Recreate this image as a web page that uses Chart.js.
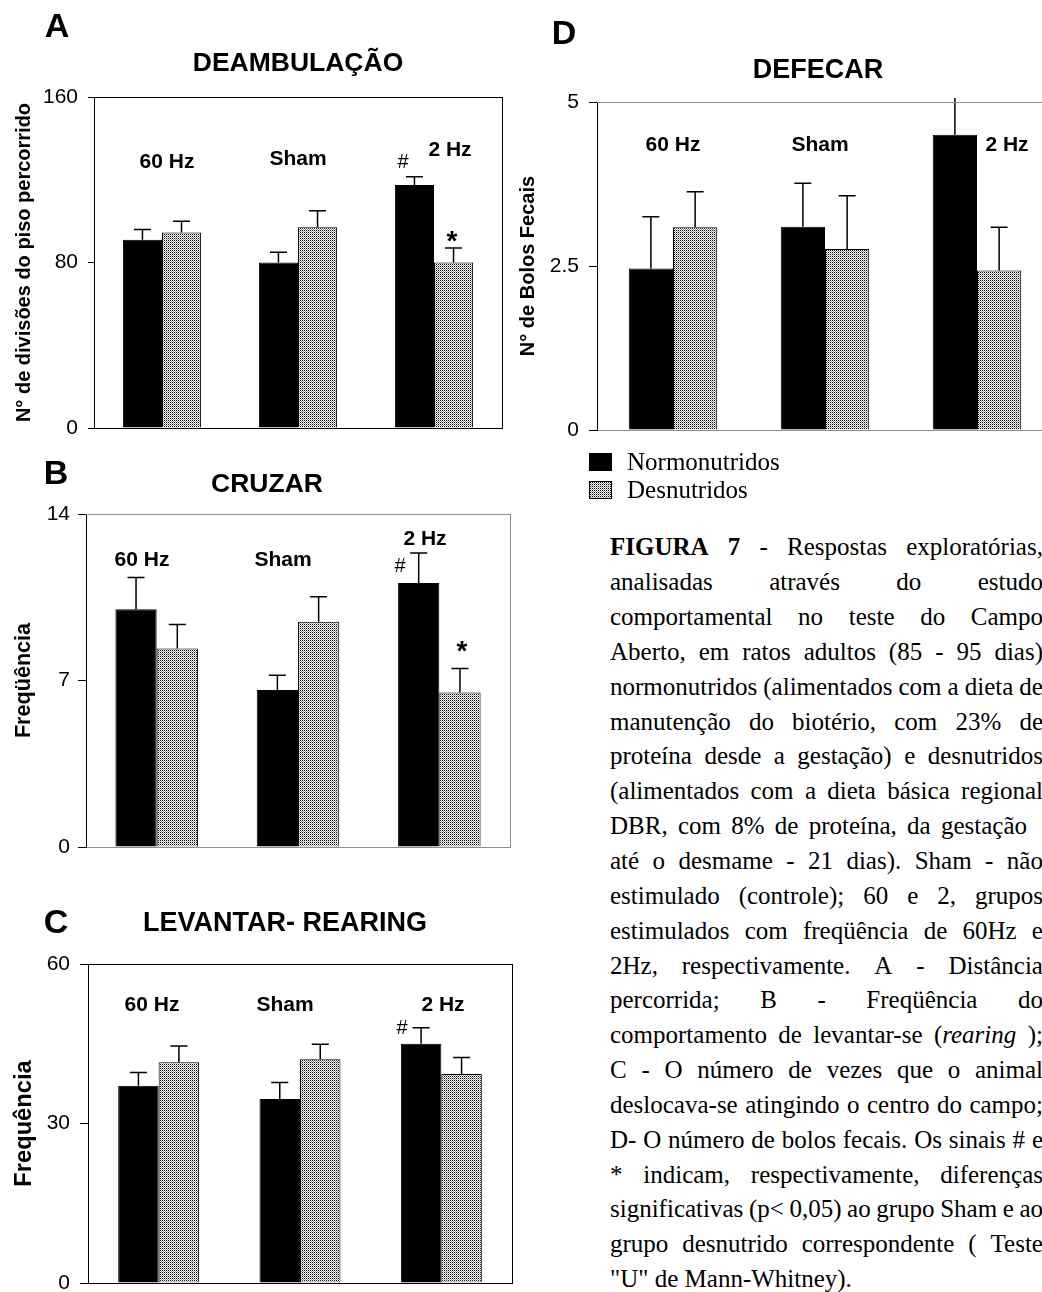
<!DOCTYPE html>
<html lang="pt">
<head>
<meta charset="utf-8">
<title>Figura 7 – Respostas exploratórias no Campo Aberto</title>
<script src="https://cdn.jsdelivr.net/npm/chart.js@4.4.1/dist/chart.umd.min.js"></script>
<style>
  html, body { margin: 0; padding: 0; background: #fff; overflow: hidden; }
  #page { position: relative; width: 1042px; height: 1292px; overflow: hidden; background: #fff; }
  #page canvas { position: absolute; }
  #caption {
    position: absolute; left: 610px; top: 530.4px; width: 433px;
    font-family: 'Liberation Serif', 'Times New Roman', serif;
    font-size: 25px; line-height: 34.85px; color: #000;
  }
  #caption .ln { display: flex; justify-content: space-between; white-space: nowrap; }
  #caption .last { white-space: nowrap; }
</style>
</head>
<body>
<div id="page">
  <canvas id="chartA" width="520" height="455" style="left:0px;top:0px"></canvas>
  <canvas id="chartB" width="520" height="430" style="left:0px;top:440px"></canvas>
  <canvas id="chartC" width="520" height="450" style="left:0px;top:860px"></canvas>
  <canvas id="chartD" width="570" height="520" style="left:512px;top:0px"></canvas>
  <div id="caption"></div>
</div>
<script>
// ---- data -------------------------------------------------------------
const categories = ['60 Hz', 'Sham', '2 Hz'];
const groups = ['Normonutridos', 'Desnutridos'];

// A – Deambulação (nº de divisões do piso percorrido), média e erro padrão
const deambNormo    = [91, 80, 117.5];
const deambNormoErr = [5, 5, 4];
const deambDesnu    = [94.5, 97, 80];
const deambDesnuErr = [5.5, 8, 7];
const deambTicks    = [0, 80, 160];

// B – Cruzar (freqüência)
const cruzNormo    = [10.0, 6.6, 11.1];
const cruzNormoErr = [1.33, 0.62, 1.26];
const cruzDesnu    = [8.35, 9.47, 6.5];
const cruzDesnuErr = [1.0, 1.05, 1.0];
const cruzTicks    = [0, 7, 14];

// C – Levantar / rearing (frequência)
const levNormo    = [37.1, 34.6, 45.0];
const levNormoErr = [2.5, 3.1, 3.0];
const levDesnu    = [41.5, 42.1, 39.3];
const levDesnuErr = [3.1, 2.8, 3.1];
const levTicks    = [0, 30, 60];

// D – Defecar (nº de bolos fecais)
const defNormo    = [2.46, 3.10, 4.50];
const defNormoErr = [0.79, 0.66, 0.58];
const defDesnu    = [3.09, 2.76, 2.43];
const defDesnuErr = [0.54, 0.81, 0.66];
const defTicks    = [0, 2.5, 5];

// significance marks: '#' vs Sham, '*' vs corresponding undernourished group
const deambMarks = ['#', '*'];
const cruzMarks  = ['#', '*'];
const levMarks   = ['#'];

// figure caption, one entry per justified line
const captionLines = [
  '<b>FIGURA</b> <b>7</b> - Respostas exploratórias,',
  'analisadas através do estudo',
  'comportamental no teste do Campo',
  'Aberto, em ratos adultos (85 - 95 dias)',
  'normonutridos (alimentados com a dieta de',
  'manutenção do biotério, com 23% de',
  'proteína desde a gestação) e desnutridos',
  '(alimentados com a dieta básica regional',
  'DBR, com 8% de proteína, da gestação',
  'até o desmame - 21 dias). Sham - não',
  'estimulado (controle); 60 e 2, grupos',
  'estimulados com freqüência de 60Hz e',
  '2Hz, respectivamente. A - Distância',
  'percorrida; B - Freqüência do',
  'comportamento de levantar-se (<i>rearing</i> );',
  'C - O número de vezes que o animal',
  'deslocava-se atingindo o centro do campo;',
  'D- O número de bolos fecais. Os sinais # e',
  '* indicam, respectivamente, diferenças',
  'significativas (p&lt; 0,05) ao grupo Sham e ao',
  'grupo desnutrido correspondente ( Teste',
  '"U" de Mann-Whitney).'
];

// ---- caption ------------------------------------------------------------
(function buildCaption() {
  const box = document.getElementById('caption');
  captionLines.forEach((line, i) => {
    const div = document.createElement('div');
    if (i === captionLines.length - 1) {
      div.className = 'last';
      div.innerHTML = line;
    } else {
      div.className = 'ln';
      if (i === 8) div.style.paddingRight = '16px';
      line.split(' ').forEach(w => {
        const s = document.createElement('span');
        s.innerHTML = w;
        div.appendChild(s);
      });
    }
    box.appendChild(div);
  });
})();

// ---- drawing helpers --------------------------------------------------
const SANS  = "'Liberation Sans', Arial, Helvetica, sans-serif";
const SERIF = "'Liberation Serif', 'Times New Roman', serif";
const GRAY  = '#8f8f8f';

Chart.defaults.font.family = SANS;
Chart.defaults.color = '#000';

// fine stipple fill for the undernourished bars
function stipple() {
  const tile = document.createElement('canvas');
  tile.width = 2; tile.height = 2;
  const g = tile.getContext('2d');
  g.fillStyle = '#fff'; g.fillRect(0, 0, 2, 2);
  g.fillStyle = '#000'; g.fillRect(0, 0, 1, 1);
  g.fillStyle = '#9a9a9a'; g.fillRect(1, 1, 1, 1);
  return g.createPattern(tile, 'repeat');
}
const dotted = stipple();

// vertical error whiskers (upper half only) with a cap
const errorBars = {
  id: 'errorBars',
  afterDatasetsDraw(chart, args, o) {
    const { ctx, chartArea: ca, scales: { y } } = chart;
    ctx.save();
    ctx.beginPath();
    ctx.rect(ca.left - 30, ca.top - 4, ca.right - ca.left + 60, ca.bottom - ca.top + 4);
    ctx.clip();
    ctx.strokeStyle = '#000';
    ctx.lineWidth = 1.5;
    chart.data.datasets.forEach((ds, i) => {
      chart.getDatasetMeta(i).data.forEach((bar, j) => {
        const top = y.getPixelForValue(ds.data[j] + ds.errors[j]);
        ctx.beginPath();
        ctx.moveTo(bar.x, bar.y);
        ctx.lineTo(bar.x, top);
        ctx.moveTo(bar.x - o.cap, top);
        ctx.lineTo(bar.x + o.cap, top);
        ctx.stroke();
      });
    });
    ctx.restore();
  }
};

// frame edges, panel letter, title, in-plot labels and legend
const decor = {
  id: 'decor',
  afterDraw(chart, args, o) {
    const { ctx, chartArea: ca } = chart;
    const ox = o.origin[0], oy = o.origin[1];
    ctx.save();
    ctx.lineWidth = 1;
    if (o.frameTop) {
      const yy = Math.round(ca.top) + 0.5;
      ctx.strokeStyle = o.frameTop;
      ctx.beginPath(); ctx.moveTo(ca.left, yy); ctx.lineTo(ca.right + 0.5, yy); ctx.stroke();
    }
    if (o.frameRight) {
      const xx = Math.round(ca.right) + 0.5;
      ctx.strokeStyle = o.frameRight;
      ctx.beginPath(); ctx.moveTo(xx, ca.top); ctx.lineTo(xx, ca.bottom); ctx.stroke();
    }
    ctx.fillStyle = '#000';
    ctx.textBaseline = 'alphabetic';
    o.texts.forEach(t => {
      ctx.font = `${t.weight || 'bold'} ${t.size}px ${t.family || SANS}`;
      ctx.textAlign = t.align || 'center';
      ctx.fillText(t.text, t.x - ox, t.cy - oy + t.size * (t.rise || 0.358));
    });
    if (o.legend) {
      const L = o.legend;
      chart.data.datasets.forEach((ds, i) => {
        const bx = L.x - ox, by = L.ys[i] - oy;
        ctx.fillStyle = ds.backgroundColor;
        ctx.fillRect(bx, by - L.h / 2, L.w, L.h);
        ctx.strokeStyle = '#000';
        ctx.strokeRect(bx + 0.5, by - L.h / 2 + 0.5, L.w - 1, L.h - 1);
        ctx.fillStyle = '#000';
        ctx.font = `${L.size}px ${SERIF}`;
        ctx.textAlign = 'left';
        ctx.fillText(ds.label, L.tx - ox, by + L.size * 0.33);
      });
    }
    ctx.restore();
  }
};

function barChart(id, p) {
  return new Chart(document.getElementById(id), {
    type: 'bar',
    data: {
      labels: categories,
      datasets: [
        { label: groups[0], data: p.normo, errors: p.normoErr, backgroundColor: '#000',
          borderColor: '#000', borderWidth: 1, barPercentage: 1, categoryPercentage: p.catPct },
        { label: groups[1], data: p.desnu, errors: p.desnuErr, backgroundColor: dotted,
          borderColor: '#000', borderWidth: 1, barPercentage: 1, categoryPercentage: p.catPct }
      ]
    },
    options: {
      responsive: false,
      animation: false,
      events: [],
      layout: { padding: { left: 0, top: p.area.top, right: p.area.right, bottom: 0 } },
      scales: {
        x: {
          ticks: { display: false },
          grid: { display: false },
          border: { display: true, color: p.bottomColor, width: 1 },
          afterFit: s => { s.height = p.area.bottom; }
        },
        y: {
          min: p.ticks[0], max: p.ticks[p.ticks.length - 1],
          afterBuildTicks: s => { s.ticks = p.ticks.map(v => ({ value: v })); },
          afterFit: s => { s.width = p.area.left; },
          ticks: { font: { size: 21 }, color: '#000', padding: p.tickPad },
          grid: { drawOnChartArea: false, drawTicks: true, tickLength: p.tickLen, color: '#000' },
          border: { display: true, color: '#000', width: 1 },
          title: { display: true, text: p.yTitle, color: '#000',
                   font: { size: p.yTitleSize, weight: 'bold' },
                   padding: { top: p.yTitlePad, bottom: 0 } }
        }
      },
      plugins: {
        legend: { display: false },
        tooltip: { enabled: false },
        errorBars: { cap: 8.5 },
        decor: p.decor
      }
    },
    plugins: [errorBars, decor]
  });
}

// A – DEAMBULAÇÃO
barChart('chartA', {
  normo: deambNormo, normoErr: deambNormoErr, desnu: deambDesnu, desnuErr: deambDesnuErr,
  ticks: deambTicks, catPct: 0.575,
  area: { left: 94, top: 97, right: 18, bottom: 27 },
  tickPad: 10, tickLen: 6, bottomColor: '#000',
  yTitle: 'N° de divisões do piso percorrido', yTitleSize: 20, yTitlePad: 12,
  decor: {
    origin: [0, 0], frameTop: '#000', frameRight: '#000',
    texts: [
      { text: 'A', x: 57, cy: 24.5, size: 34 },
      { text: 'DEAMBULAÇÃO', x: 298, cy: 62, size: 26.5 },
      { text: categories[0], x: 167, cy: 160, size: 21 },
      { text: categories[1], x: 298, cy: 157, size: 21 },
      { text: categories[2], x: 450, cy: 148, size: 21 },
      { text: deambMarks[0], x: 403, cy: 161, size: 20, weight: 'normal', rise: 0.35 },
      { text: deambMarks[1], x: 452, cy: 234, size: 28, rise: 0.58 }
    ]
  }
});

// B – CRUZAR
barChart('chartB', {
  normo: cruzNormo, normoErr: cruzNormoErr, desnu: cruzDesnu, desnuErr: cruzDesnuErr,
  ticks: cruzTicks, catPct: 0.584,
  area: { left: 86, top: 74, right: 10, bottom: 23 },
  tickPad: 8, tickLen: 8, bottomColor: GRAY,
  yTitle: 'Freqüência', yTitleSize: 21.6, yTitlePad: 11,
  decor: {
    origin: [0, 440], frameTop: GRAY, frameRight: GRAY,
    texts: [
      { text: 'B', x: 56, cy: 471.5, size: 34 },
      { text: 'CRUZAR', x: 267, cy: 483, size: 26.5 },
      { text: categories[0], x: 142, cy: 558, size: 21 },
      { text: categories[1], x: 283, cy: 558, size: 21 },
      { text: categories[2], x: 425, cy: 537, size: 21 },
      { text: cruzMarks[0], x: 400, cy: 565, size: 20, weight: 'normal', rise: 0.35 },
      { text: cruzMarks[1], x: 462, cy: 644, size: 28, rise: 0.58 }
    ]
  }
});

// C – LEVANTAR / REARING
barChart('chartC', {
  normo: levNormo, normoErr: levNormoErr, desnu: levDesnu, desnuErr: levDesnuErr,
  ticks: levTicks, catPct: 0.573,
  area: { left: 88, top: 104, right: 8, bottom: 27 },
  tickPad: 10, tickLen: 8, bottomColor: '#000',
  yTitle: 'Frequência', yTitleSize: 23.7, yTitlePad: 9.8,
  decor: {
    origin: [0, 860], frameTop: '#000', frameRight: '#000',
    texts: [
      { text: 'C', x: 56, cy: 921, size: 34 },
      { text: 'LEVANTAR- REARING', x: 285, cy: 921, size: 27 },
      { text: categories[0], x: 152, cy: 1003, size: 21 },
      { text: categories[1], x: 285, cy: 1003, size: 21 },
      { text: categories[2], x: 443, cy: 1003, size: 21 },
      { text: levMarks[0], x: 402, cy: 1027, size: 20, weight: 'normal', rise: 0.35 }
    ]
  }
});

// D – DEFECAR, with the key for both groups underneath
barChart('chartD', {
  normo: defNormo, normoErr: defNormoErr, desnu: defDesnu, desnuErr: defDesnuErr,
  ticks: defTicks, catPct: 0.582,
  area: { left: 85, top: 102, right: 29, bottom: 90 },
  tickPad: 10, tickLen: 8, bottomColor: GRAY,
  yTitle: 'N° de Bolos Fecais', yTitleSize: 20, yTitlePad: 4,
  decor: {
    origin: [512, 0], frameTop: GRAY, frameRight: null,
    texts: [
      { text: 'D', x: 564, cy: 32, size: 34 },
      { text: 'DEFECAR', x: 818, cy: 68, size: 27 },
      { text: categories[0], x: 673, cy: 143, size: 21 },
      { text: categories[1], x: 820, cy: 143, size: 21 },
      { text: categories[2], x: 1007, cy: 143, size: 21 }
    ],
    legend: { x: 589, w: 23, h: 18, ys: [462, 490], tx: 627, size: 25 }
  }
});
</script>
</body>
</html>
